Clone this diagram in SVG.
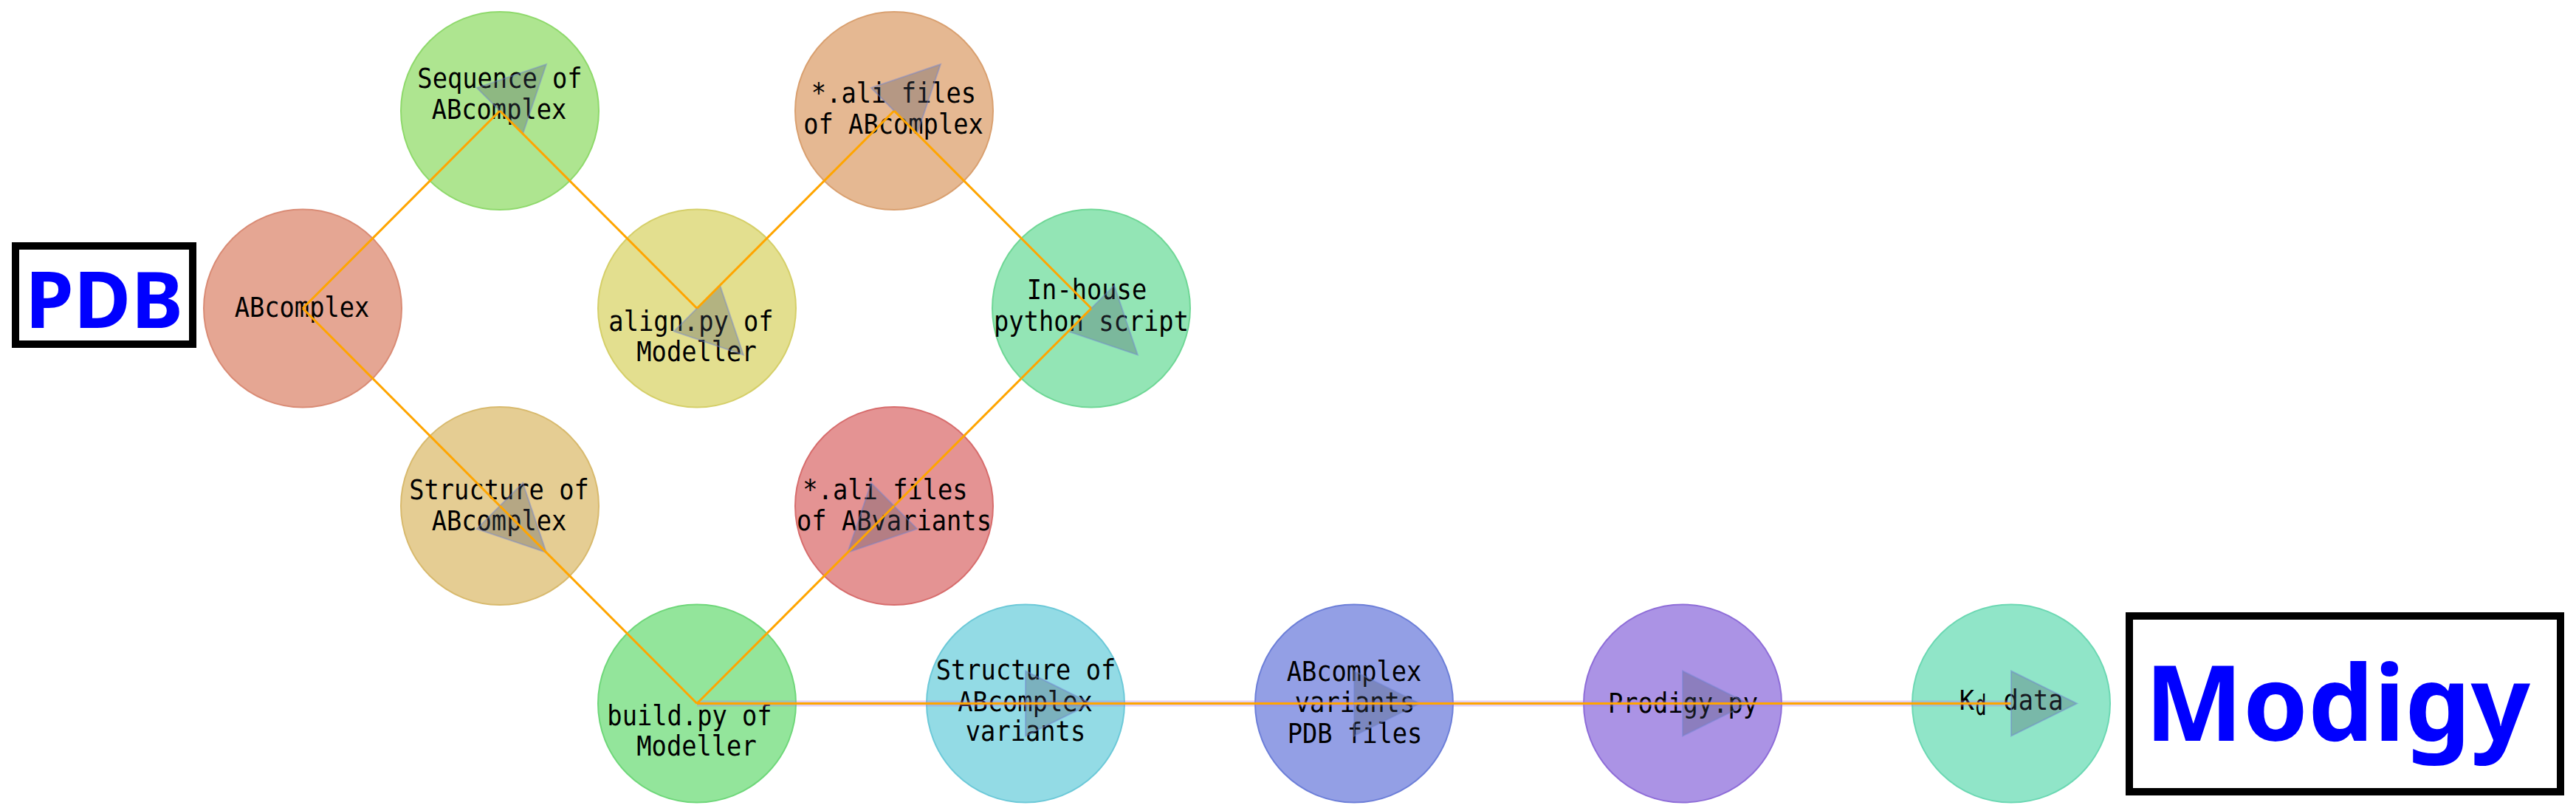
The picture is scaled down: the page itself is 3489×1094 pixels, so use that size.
<svg xmlns="http://www.w3.org/2000/svg" width="3489" height="1094" viewBox="0 0 3489 1094">
<style>
.node{stroke-width:2}
.lbl{font-family:"DejaVu Sans Mono","Liberation Mono",monospace;font-size:37px;fill:#000;text-anchor:middle}
.edge{stroke:#ffa500;stroke-width:3;fill:none}
.glow{stroke:#b07ce0;stroke-opacity:0.35;stroke-width:8;fill:none}
.big{font-family:"Noto Sans","Liberation Sans",sans-serif;font-weight:bold;fill:#0000ff;text-anchor:middle}
.box{fill:#fff;stroke:#000;stroke-width:10}
</style>
<defs>
<marker id="arr" markerUnits="userSpaceOnUse" markerWidth="94" markerHeight="94" viewBox="-2 -47 94 94" refX="0" refY="0" orient="auto">
<path d="M0,-44 L89,0 L0,44 Z" fill="#465064" fill-opacity="0.3" stroke="#6e82d2" stroke-opacity="0.45" stroke-width="2"/>
</marker>
</defs>
<rect width="3489" height="1094" fill="#fff"/>

<g id="PDB">
<rect class="box" x="21" y="333" width="240" height="133"/>
<text class="big" x="141" y="444" font-size="106">PDB</text>
</g>

<g id="n-ABcomplex"><circle class="node" cx="410" cy="417.5" r="134" fill="#e5a693" stroke="#d98b75"/>
<text class="lbl" x="409" y="429" textLength="182.7" lengthAdjust="spacingAndGlyphs">ABcomplex</text></g>

<g id="n-sequence"><circle class="node" cx="677" cy="150" r="134" fill="#aee590" stroke="#8fd96c"/>
<text class="lbl" x="677" y="119" textLength="223.3" lengthAdjust="spacingAndGlyphs">Sequence of</text>
<text class="lbl" x="676" y="161" textLength="182.7" lengthAdjust="spacingAndGlyphs">ABcomplex</text></g>

<g id="n-align"><circle class="node" cx="944" cy="417.5" r="134" fill="#e3df8f" stroke="#d5cf69"/>
<text class="lbl" x="936" y="448" textLength="223.3" lengthAdjust="spacingAndGlyphs">align.py of</text>
<text class="lbl" x="943.5" y="489" textLength="162.4" lengthAdjust="spacingAndGlyphs">Modeller</text></g>

<g id="n-ali-ABcomplex"><circle class="node" cx="1211" cy="150" r="134" fill="#e5b892" stroke="#d9a070"/>
<text class="lbl" x="1210.5" y="139" textLength="223.3" lengthAdjust="spacingAndGlyphs">*.ali files</text>
<text class="lbl" x="1210" y="181" textLength="243.6" lengthAdjust="spacingAndGlyphs">of ABcomplex</text></g>

<g id="n-inhouse"><circle class="node" cx="1478" cy="417.5" r="134" fill="#93e5b5" stroke="#6fd796"/>
<text class="lbl" x="1472" y="405" textLength="162.4" lengthAdjust="spacingAndGlyphs">In-house</text>
<text class="lbl" x="1478" y="448" textLength="263.9" lengthAdjust="spacingAndGlyphs">python script</text></g>

<g id="n-structure"><circle class="node" cx="677" cy="685" r="134" fill="#e5cd93" stroke="#d8ba6e"/>
<text class="lbl" x="676" y="676" textLength="243.6" lengthAdjust="spacingAndGlyphs">Structure of</text>
<text class="lbl" x="676" y="718" textLength="182.7" lengthAdjust="spacingAndGlyphs">ABcomplex</text></g>

<g id="n-ali-ABvariants"><circle class="node" cx="1211" cy="685" r="134" fill="#e49393" stroke="#d76d6d"/>
<text class="lbl" x="1199" y="676" textLength="223.3" lengthAdjust="spacingAndGlyphs">*.ali files</text>
<text class="lbl" x="1211" y="718" textLength="263.9" lengthAdjust="spacingAndGlyphs">of ABvariants</text></g>

<g id="n-build"><circle class="node" cx="944" cy="952.5" r="134" fill="#93e59b" stroke="#6fd77a"/>
<text class="lbl" x="934" y="982" textLength="223.3" lengthAdjust="spacingAndGlyphs">build.py of</text>
<text class="lbl" x="943.5" y="1023" textLength="162.4" lengthAdjust="spacingAndGlyphs">Modeller</text></g>

<g id="n-structure-variants"><circle class="node" cx="1389" cy="952.5" r="134" fill="#93dbe5" stroke="#6dc9d8"/>
<text class="lbl" x="1389.5" y="920" textLength="243.6" lengthAdjust="spacingAndGlyphs">Structure of</text>
<text class="lbl" x="1388.5" y="963" textLength="182.7" lengthAdjust="spacingAndGlyphs">ABcomplex</text>
<text class="lbl" x="1389" y="1003" textLength="162.4" lengthAdjust="spacingAndGlyphs">variants</text></g>

<g id="n-pdb-files"><circle class="node" cx="1834" cy="952.5" r="134" fill="#939fe5" stroke="#6d7fd8"/>
<text class="lbl" x="1834" y="922" textLength="182.7" lengthAdjust="spacingAndGlyphs">ABcomplex</text>
<text class="lbl" x="1835" y="964" textLength="162.4" lengthAdjust="spacingAndGlyphs">variants</text>
<text class="lbl" x="1835" y="1006" textLength="182.7" lengthAdjust="spacingAndGlyphs">PDB files</text></g>

<g id="n-prodigy"><circle class="node" cx="2279" cy="952.5" r="134" fill="#ab93e5" stroke="#8e6dd8"/>
<text class="lbl" x="2279.5" y="965" textLength="203" lengthAdjust="spacingAndGlyphs">Prodigy.py</text></g>

<g id="n-kd"><circle class="node" cx="2724" cy="952.5" r="134" fill="#90e5c8" stroke="#6cd8b3"/>
<text class="lbl" x="2664" y="961" textLength="20.3" lengthAdjust="spacingAndGlyphs">K</text>
<text class="lbl" x="2683" y="968" font-size="21" textLength="15" lengthAdjust="spacingAndGlyphs">d</text>
<text class="lbl" x="2754" y="961" textLength="81.2" lengthAdjust="spacingAndGlyphs">data</text></g>

<g id="Modigy">
<rect class="box" x="2884" y="834" width="584" height="238"/>
<text class="big" x="3166" y="1003" font-size="141">Modigy</text>
</g>

<g id="connectors">
<line class="glow" x1="944" y1="952.5" x2="2724" y2="952.5"/>
<line class="edge" x1="410" y1="417.5" x2="677" y2="150" marker-end="url(#arr)"/>
<line class="edge" x1="677" y1="150" x2="944" y2="417.5" marker-end="url(#arr)"/>
<line class="edge" x1="944" y1="417.5" x2="1211" y2="150" marker-end="url(#arr)"/>
<line class="edge" x1="1211" y1="150" x2="1478" y2="417.5" marker-end="url(#arr)"/>
<line class="edge" x1="1478" y1="417.5" x2="1211" y2="685" marker-end="url(#arr)"/>
<line class="edge" x1="410" y1="417.5" x2="677" y2="685" marker-end="url(#arr)"/>
<line class="edge" x1="677" y1="685" x2="944" y2="952.5"/>
<line class="edge" x1="1211" y1="685" x2="944" y2="952.5"/>
<line class="edge" x1="944" y1="952.5" x2="1389" y2="952.5" marker-end="url(#arr)"/>
<line class="edge" x1="1389" y1="952.5" x2="1834" y2="952.5" marker-end="url(#arr)"/>
<line class="edge" x1="1834" y1="952.5" x2="2279" y2="952.5" marker-end="url(#arr)"/>
<line class="edge" x1="2279" y1="952.5" x2="2724" y2="952.5" marker-end="url(#arr)"/>
</g>
</svg>
